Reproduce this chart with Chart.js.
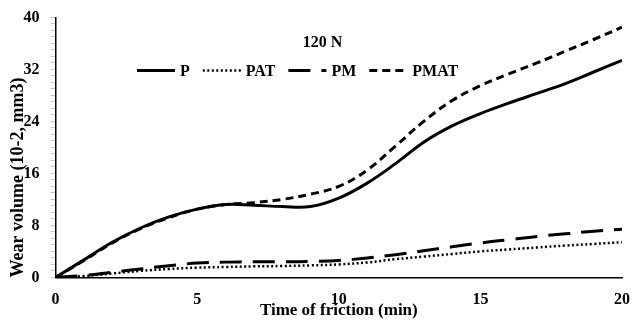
<!DOCTYPE html>
<html>
<head>
<meta charset="utf-8">
<script src="https://cdn.jsdelivr.net/npm/chart.js@4"></script>
<style>
  html, body { margin: 0; padding: 0; background: #fff; }
  #wrap { width: 632px; height: 321px; }
</style>
</head>
<body>
<div id="wrap"><canvas id="chartWear" width="632" height="321"></canvas></div>
<script>
/* --------------------------------------------
   Wear volume vs time of friction, 120 N
--------------------------------------------- */

// time of friction (min)
const minutes = [0, 1, 2, 3, 4, 5, 6, 7, 8, 9, 10, 11, 12, 13, 14, 15, 16, 17, 18, 19, 20];

// wear volume (10-2, mm3)
const wearP    = [0, 2.7, 5.4, 7.6, 9.3, 10.5, 11.2, 11.1, 10.9, 10.9, 12.2, 14.5, 17.5, 20.8, 23.3, 25.2, 26.8, 28.3, 29.8, 31.6, 33.4];
const wearPAT  = [0, 0.2, 0.6, 1.0, 1.3, 1.5, 1.6, 1.7, 1.75, 1.85, 2.0, 2.3, 2.8, 3.2, 3.6, 4.0, 4.3, 4.6, 4.9, 5.15, 5.4];
const wearPM   = [0, 0.3, 0.8, 1.3, 1.8, 2.2, 2.35, 2.4, 2.4, 2.45, 2.6, 3.0, 3.5, 4.1, 4.7, 5.3, 5.8, 6.3, 6.7, 7.1, 7.4];
const wearPMAT = [0, 2.6, 5.3, 7.5, 9.2, 10.5, 11.2, 11.5, 12.0, 12.8, 14.0, 16.5, 20.2, 24.0, 27.2, 29.5, 31.3, 33.0, 34.8, 36.6, 38.5];

const yLabels = [0, 8, 16, 24, 32, 40];
const loadTitle = "120 N";

const serif = "'Liberation Serif', 'Times New Roman', serif";

function toPoints(ys) {
  return minutes.map((m, i) => ({ x: m, y: ys[i] }));
}

function series(label, ys, dash, width) {
  return {
    label: label,
    data: toPoints(ys),
    borderColor: "#000",
    backgroundColor: "#000",
    borderWidth: width,
    borderDash: dash,
    pointRadius: 0,
    fill: false,
    tension: 0.4
  };
}

/* -------------------------
    Legend inside the plot
------------------------- */
const insideLegend = {
  id: "insideLegend",
  afterDraw(chart) {
    const ctx = chart.ctx;
    const area = chart.chartArea;
    const sample = 38, gapText = 5, gapItem = 13;
    ctx.save();
    ctx.fillStyle = "#000";
    ctx.textBaseline = "middle";

    // title
    ctx.font = "bold 16px " + serif;
    ctx.textAlign = "center";
    ctx.fillText(loadTitle, area.left + 267, area.top + 25);

    // items
    const sets = chart.data.datasets;
    let total = 0;
    sets.forEach((ds, i) => {
      total += sample + gapText + ctx.measureText(ds.label).width;
      if (i < sets.length - 1) total += gapItem;
    });
    let x = area.left + 242 - total / 2;
    const y = area.top + 53;
    ctx.textAlign = "left";
    sets.forEach(ds => {
      ctx.strokeStyle = "#000";
      ctx.lineWidth = ds.borderWidth;
      ctx.setLineDash(ds.borderDash || []);
      ctx.beginPath();
      ctx.moveTo(x, y);
      ctx.lineTo(x + sample, y);
      ctx.stroke();
      ctx.setLineDash([]);
      x += sample + gapText;
      ctx.fillText(ds.label, x, y + 1);
      x += ctx.measureText(ds.label).width + gapItem;
    });
    ctx.restore();
  }
};

new Chart(document.getElementById("chartWear"), {
  type: "line",
  data: {
    datasets: [
      series("P", wearP, [], 3),
      series("PAT", wearPAT, [2, 2.5], 2.5),
      series("PM", wearPM, [22, 11], 3),
      series("PMAT", wearPMAT, [8, 5], 3)
    ]
  },
  plugins: [insideLegend],
  options: {
    responsive: false,
    animation: false,
    layout: { padding: { top: 0, right: 0, left: 8, bottom: 0 } },
    plugins: {
      legend: { display: false },
      tooltip: { enabled: false }
    },
    scales: {
      x: {
        type: "linear",
        min: 0,
        max: 20,
        ticks: {
          stepSize: 5,
          color: "#000",
          padding: 2,
          font: { family: serif, size: 16, weight: "bold" }
        },
        // invisible tick marks, only to push the labels down
        grid: {
          display: true,
          drawOnChartArea: false,
          drawTicks: true,
          tickLength: 11,
          color: "rgba(0,0,0,0)"
        },
        border: { display: true, color: "#000", width: 1.5 },
        title: {
          display: true,
          text: "Time of friction (min)",
          color: "#000",
          padding: { top: -11, bottom: 0 },
          font: { family: serif, size: 17, weight: "bold" }
        }
      },
      y: {
        min: 0,
        max: 40,
        ticks: {
          stepSize: 1,
          autoSkip: false,
          color: "#000",
          padding: 11,
          font: { family: serif, size: 16, weight: "bold", lineHeight: 0.8 },
          callback: v => (yLabels.includes(v) ? v : "")
        },
        grid: {
          drawOnChartArea: false,
          drawTicks: true,
          tickLength: 5,
          color: "#c8c8c8"
        },
        border: { display: true, color: "#000", width: 1.5 },
        title: {
          display: true,
          align: "start",
          text: "Wear volume (10-2, mm3)",
          color: "#000",
          padding: { top: 0, bottom: -17 },
          font: { family: serif, size: 18, weight: "bold" }
        }
      }
    }
  }
});
</script>
</body>
</html>
